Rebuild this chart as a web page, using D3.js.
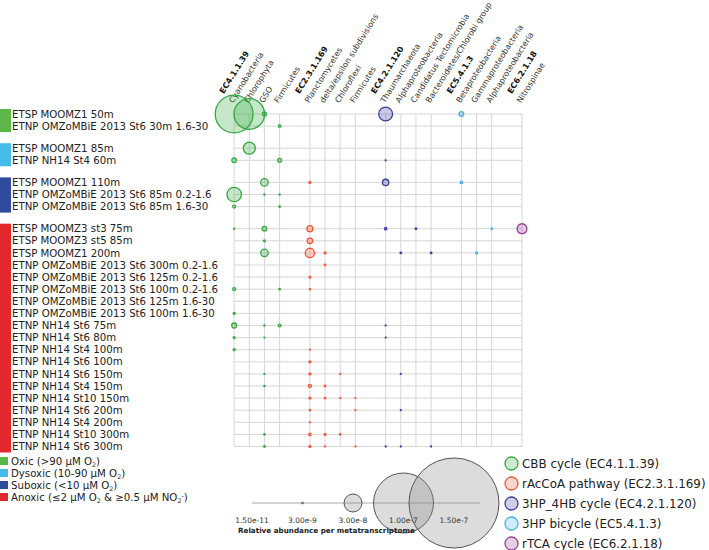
<!DOCTYPE html>
<html>
<head>
<meta charset="utf-8">
<script src="https://cdn.jsdelivr.net/npm/d3@7"></script>
<style>
  html, body { margin: 0; padding: 0; background: #fff; }
  svg { display: block; font-family: "DejaVu Sans", sans-serif; }
</style>
</head>
<body>
<svg id="chart" width="709" height="550"></svg>
<script>
// ---------------- DATA ----------------
const sampleLabels = [
  "ETSP MOOMZ1 50m",
  "ETNP OMZoMBiE 2013 St6 30m 1.6-30",
  "ETSP MOOMZ1 85m",
  "ETNP NH14 St4 60m",
  "ETSP MOOMZ1 110m",
  "ETNP OMZoMBiE 2013 St6 85m 0.2-1.6",
  "ETNP OMZoMBiE 2013 St6 85m 1.6-30",
  "ETSP MOOMZ3 st3 75m",
  "ETSP MOOMZ3 st5 85m",
  "ETSP MOOMZ1 200m",
  "ETNP OMZoMBiE 2013 St6 300m 0.2-1.6",
  "ETNP OMZoMBiE 2013 St6 125m 0.2-1.6",
  "ETNP OMZoMBiE 2013 St6 100m 0.2-1.6",
  "ETNP OMZoMBiE 2013 St6 125m 1.6-30",
  "ETNP OMZoMBiE 2013 St6 100m 1.6-30",
  "ETNP NH14 St6 75m",
  "ETNP NH14 St6 80m",
  "ETNP NH14 St4 100m",
  "ETNP NH14 St6 100m",
  "ETNP NH14 St6 150m",
  "ETNP NH14 St4 150m",
  "ETNP NH14 St10 150m",
  "ETNP NH14 St6 200m",
  "ETNP NH14 St4 200m",
  "ETNP NH14 St10 300m",
  "ETNP NH14 St6 300m"
];
const sampleZone = [0,0,1,1,2,2,2,3,3,3,3,3,3,3,3,3,3,3,3,3,3,3,3,3,3,3];

const zoneColors = ["#5cb749", "#44bce9", "#2f4b9d", "#e2282c"];

const columnLabels = [
  "EC4.1.1.39","Cyanobacteria","Chlorophyta","GSO","Firmicutes",
  "EC2.3.1.169","Planctomycetes","delta/epsilon subdivisions","Chloroflexi","Firmicutes",
  "EC4.2.1.120","Thaumarchaeota","Alphaproteobacteria","Candidatus Tectomicrobia","Bacteroidetes/Chlorobi group",
  "EC5.4.1.3","Betaproteobacteria","Gammaproteobacteria","Alphaproteobacteria",
  "EC6.2.1.18","Nitrospinae"
];
const columnIsHeader = [1,0,0,0,0, 1,0,0,0,0, 1,0,0,0,0, 1,0,0,0, 1,0];
const columnPathway  = [0,0,0,0,0, 1,1,1,1,1, 2,2,2,2,2, 3,3,3,3, 4,4];

const pathwayLabels = [
  "CBB cycle (EC4.1.1.39)",
  "rAcCoA pathway (EC2.3.1.169)",
  "3HP_4HB cycle (EC4.2.1.120)",
  "3HP bicycle (EC5.4.1.3)",
  "rTCA cycle (EC6.2.1.18)"
];
const pathwayStroke = ["#36a843", "#f0583a", "#3c3d9f", "#42b2e8", "#954099"];

// [sample index, column index, relative abundance]
const abundance = [
  [0,1,6.3e-8],[0,2,5.1e-8],[0,3,6.6e-9],[0,11,2.3e-8],[0,16,7.6e-9],
  [1,4,4.3e-9],
  [2,2,2.0e-8],
  [3,1,7.6e-9],[3,4,6.6e-9],[3,11,1.3e-9],
  [4,3,1.25e-8],[4,6,3.3e-9],[4,11,1.05e-8],[4,16,4.0e-9],
  [5,1,2.4e-8],[5,3,2.0e-9],[5,4,2.0e-9],
  [6,1,5.0e-9],[6,4,2.6e-9],
  [7,1,2.0e-9],[7,3,7.6e-9],[7,6,1.0e-8],[7,11,4.0e-9],[7,13,2.6e-9],[7,18,2.3e-9],[7,20,1.65e-8],
  [8,3,3.3e-9],[8,6,9.2e-9],
  [9,3,1.25e-8],[9,6,1.55e-8],[9,7,3.3e-9],[9,12,2.6e-9],[9,14,2.6e-9],[9,17,3.3e-9],
  [10,7,2.6e-9],
  [11,6,3.3e-9],
  [12,1,5.0e-9],[12,4,2.6e-9],[12,6,2.0e-9],
  [14,1,3.3e-9],
  [15,1,8.3e-9],[15,3,2.0e-9],[15,4,4.3e-9],[15,11,1.7e-9],
  [16,1,3.3e-9],[16,3,1.7e-9],[16,11,1.7e-9],
  [17,1,3.3e-9],[17,6,1.3e-9],
  [18,6,3.3e-9],
  [19,3,1.7e-9],[19,6,3.0e-9],[19,8,1.7e-9],[19,12,1.3e-9],
  [20,3,2.0e-9],[20,6,5.0e-9],[20,7,2.6e-9],
  [21,6,3.3e-9],[21,7,2.6e-9],[21,8,1.7e-9],[21,9,1.3e-9],
  [22,6,2.3e-9],[22,9,1.3e-9],[22,12,1.3e-9],
  [23,6,1.7e-9],
  [24,3,2.3e-9],[24,6,4.0e-9],[24,7,3.0e-9],[24,8,2.3e-9],
  [25,3,2.6e-9],[25,6,3.3e-9],[25,7,1.3e-9],[25,9,1.3e-9],[25,11,1.0e-9],[25,12,1.0e-9],[25,14,1.0e-9]
];

const sizeLegendValues = [1.5e-11, 3e-9, 3e-8, 1e-7, 1.5e-7];
const sizeLegendLabels = ["1.50e-11", "3.00e-9", "3.00e-8", "1.00e-7", "1.50e-7"];
const sizeLegendTitle = "Relative abundance per metatranscriptome";

// ---------------- LAYOUT ----------------
const svg = d3.select("#chart");

const x = d3.scaleLinear().domain([0, columnLabels.length - 1]).range([219, 522]);
const gapSlots = 10 / 12.1;
const slot = (i) => i + sampleZone[i] * gapSlots;
const y = d3.scaleLinear().domain([0, 1]).range([114, 126.1]);
const rowY = (i) => y(slot(i));
const r = d3.scaleLinear().domain([0, 1.5e-7]).range([0, 45]);

const dataCols = d3.range(columnLabels.length).filter(c => !columnIsHeader[c]);
const firstCol = dataCols[0], lastCol = dataCols[dataCols.length - 1];
const yTop = rowY(0), yBot = rowY(sampleLabels.length - 1);

// grid
const grid = svg.append("g").attr("stroke", "#d6d6d6").attr("stroke-width", 1);
grid.selectAll("line.v").data(dataCols).join("line")
  .attr("x1", d => x(d)).attr("x2", d => x(d))
  .attr("y1", yTop).attr("y2", yBot);
grid.selectAll("line.h").data(sampleLabels).join("line")
  .attr("x1", x(firstCol)).attr("x2", x(lastCol))
  .attr("y1", (d, i) => rowY(i)).attr("y2", (d, i) => rowY(i));

// column labels
svg.append("g").selectAll("text").data(columnLabels).join("text")
  .attr("transform", (d, i) => `translate(${x(i) - 1},103.5) rotate(-58)`)
  .attr("dx", (d, i) => columnIsHeader[i] ? 11 : 0)
  .attr("font-size", 8)
  .attr("font-weight", (d, i) => columnIsHeader[i] ? "bold" : "normal")
  .attr("fill", (d, i) => columnIsHeader[i] ? "#111" : "#333")
  .text(d => d);

// row labels
svg.append("g").selectAll("text").data(sampleLabels).join("text")
  .attr("x", 12).attr("y", (d, i) => rowY(i)).attr("dy", "0.36em")
  .attr("font-size", 10.2).attr("fill", "#222")
  .text(d => d);

// zone bars
const zones = d3.groups(sampleLabels.map((d, i) => i), i => sampleZone[i]);
svg.append("g").selectAll("rect").data(zones).join("rect")
  .attr("x", 0).attr("width", 11)
  .attr("y", d => rowY(d[1][0]) - 5)
  .attr("height", d => rowY(d[1][d[1].length - 1]) - rowY(d[1][0]) + 11)
  .attr("fill", d => zoneColors[d[0]]);

// bubbles
svg.append("g").selectAll("circle").data(abundance).join("circle")
  .attr("cx", d => x(d[1])).attr("cy", d => rowY(d[0]))
  .attr("r", d => Math.max(0.5, r(d[2])))
  .attr("fill", d => pathwayStroke[columnPathway[d[1]]])
  .attr("fill-opacity", 0.28)
  .attr("stroke", d => pathwayStroke[columnPathway[d[1]]])
  .attr("stroke-width", 1.3);

// zone legend
const zoneLegend = svg.append("g").attr("font-size", 10.2).attr("fill", "#222");
const zoneY = [461, 473, 485, 497];
const zoneParts = [
  [["Oxic (>90 µM O", 0], ["2", 1], [")", 0]],
  [["Dysoxic (10-90 µM O", 0], ["2", 1], [")", 0]],
  [["Suboxic (<10 µM O", 0], ["2", 1], [")", 0]],
  [["Anoxic (≤2 µM O", 0], ["2", 1], [" & ≥0.5 µM NO", 0], ["2", 1], ["-", 2], [")", 0]]
];
zoneParts.forEach((parts, k) => {
  zoneLegend.append("rect").attr("x", 0).attr("y", zoneY[k] - 4).attr("width", 8).attr("height", 8)
    .attr("fill", zoneColors[k]);
  const t = zoneLegend.append("text").attr("x", 11).attr("y", zoneY[k] + 3.6);
  parts.forEach(([s, kind]) => {
    const ts = t.append("tspan").text(s);
    if (kind === 1) ts.attr("font-size", 6.3).attr("baseline-shift", -1.5);
    if (kind === 2) ts.attr("font-size", 6.3).attr("baseline-shift", 3.5);
  });
});

// size legend
const sx = d3.scalePoint().domain(sizeLegendLabels).range([252, 454]);
const sizeG = svg.append("g");
const sizeLineY = 503;
sizeG.append("line").attr("x1", 252).attr("x2", 480).attr("y1", sizeLineY).attr("y2", sizeLineY)
  .attr("stroke", "#aaa").attr("stroke-width", 1);
sizeG.selectAll("circle").data(sizeLegendValues).join("circle")
  .attr("cx", (d, i) => sx(sizeLegendLabels[i])).attr("cy", sizeLineY)
  .attr("r", d => Math.max(0.01, r(d)))
  .attr("fill", "#8a8a8a").attr("fill-opacity", 0.3)
  .attr("stroke", "#555").attr("stroke-width", 1);
sizeG.selectAll("text.lab").data(sizeLegendLabels).join("text")
  .attr("x", d => sx(d)).attr("y", 523).attr("text-anchor", "middle")
  .attr("font-size", 7.5).attr("fill", "#333").text(d => d);
sizeG.append("text").attr("x", 238).attr("y", 532.5)
  .attr("font-size", 7.2).attr("font-weight", "bold").attr("fill", "#222")
  .text(sizeLegendTitle);

// pathway legend
const pl = svg.append("g");
const plY = d3.scaleLinear().domain([0, 1]).range([463.5, 483.5]);
pl.selectAll("circle").data(pathwayLabels).join("circle")
  .attr("cx", 511.5).attr("cy", (d, i) => plY(i)).attr("r", 6.5)
  .attr("fill", (d, i) => pathwayStroke[i]).attr("fill-opacity", 0.25)
  .attr("stroke", (d, i) => pathwayStroke[i]).attr("stroke-width", 1.3);
pl.selectAll("text").data(pathwayLabels).join("text")
  .attr("x", 522).attr("y", (d, i) => plY(i)).attr("dy", "0.36em")
  .attr("font-size", 11.9).attr("fill", "#222").text(d => d);
</script>
</body>
</html>
